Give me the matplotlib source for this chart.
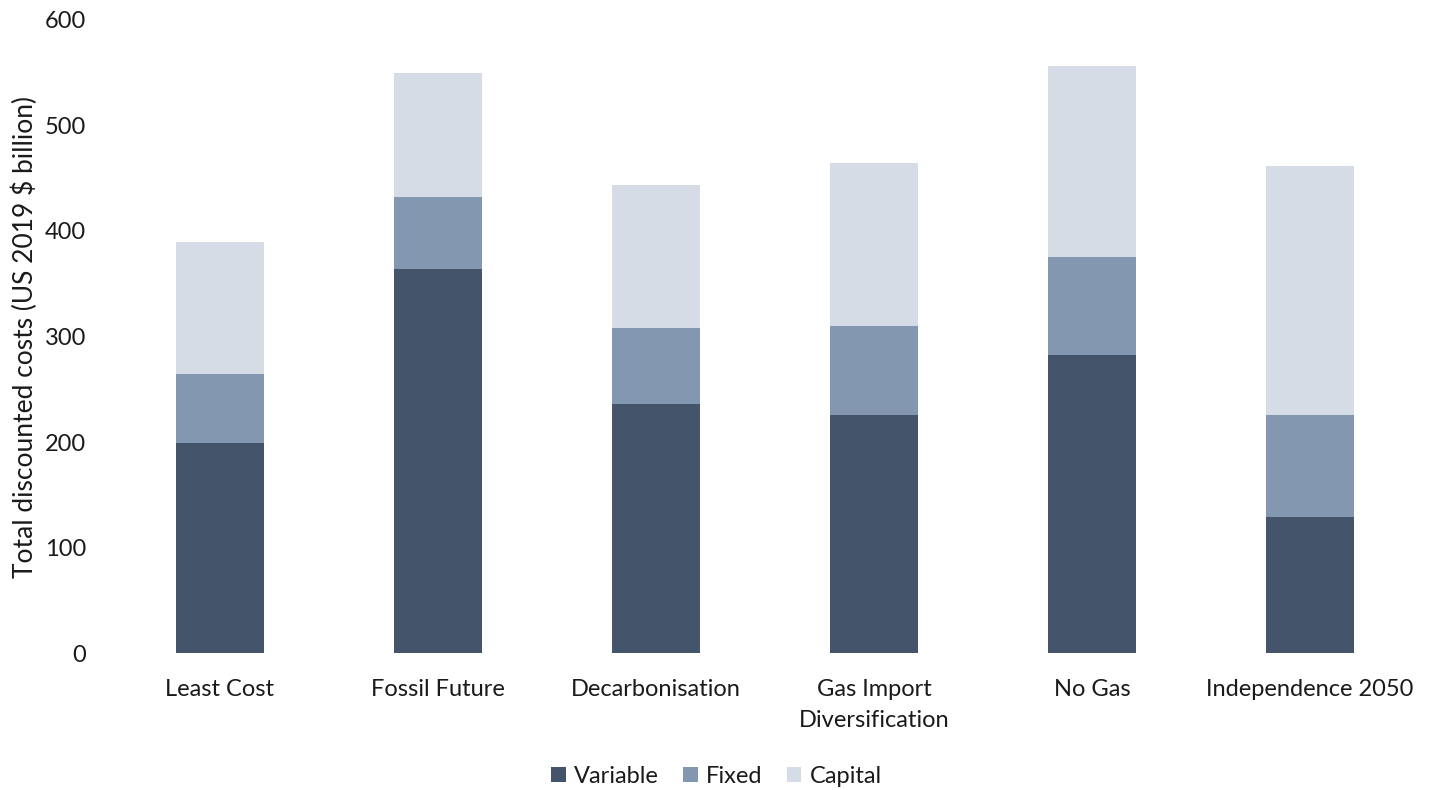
import matplotlib.pyplot as plt
import numpy as np

plt.rcParams['font.family'] = ['Lato', 'DejaVu Sans']

# scenarios and cost components (US 2019 $ billion)
scenarios = ['Least Cost', 'Fossil Future', 'Decarbonisation',
             'Gas Import\nDiversification', 'No Gas', 'Independence 2050']
variable = [199, 364, 236, 226, 282, 129]
fixed = [65, 68, 72, 84, 93, 97]
capital = [126, 118, 136, 154, 181, 236]

colors = {'Variable': '#44546a', 'Fixed': '#8497b0', 'Capital': '#d6dce5'}

fig = plt.figure(figsize=(14.37, 7.9), dpi=100)
ax = fig.add_axes([0.0772, 0.1734, 0.9103, 0.8013])

x = np.arange(len(scenarios))
w = 0.40
bottom = np.zeros(len(scenarios))
for name, vals in [('Variable', variable), ('Fixed', fixed), ('Capital', capital)]:
    ax.bar(x, vals, w, bottom=bottom, color=colors[name], label=name)
    bottom += np.array(vals)

ax.set_xlim(-0.5, len(scenarios) - 0.5)
ax.set_ylim(0, 600)
ax.set_yticks(range(0, 601, 100))
ax.set_xticks(x)
ax.set_xticklabels(scenarios, fontsize=17, color='#1a1a1a', linespacing=1.55)
ax.tick_params(axis='y', labelsize=17, colors='#1a1a1a', length=0, pad=18)
ax.tick_params(axis='x', length=0, pad=19)
for s in ax.spines.values():
    s.set_visible(False)

ax.set_ylabel('Total discounted costs (US 2019 $ billion)', fontsize=19, color='#1a1a1a', labelpad=5)

ax.legend(loc='upper center', bbox_to_anchor=(0.463, -0.145), ncol=3, frameon=False,
          fontsize=17, handlelength=0.6, handleheight=0.6, handletextpad=0.35,
          columnspacing=1.05, labelcolor='#1a1a1a')

fig.savefig('out.png', dpi=100)
